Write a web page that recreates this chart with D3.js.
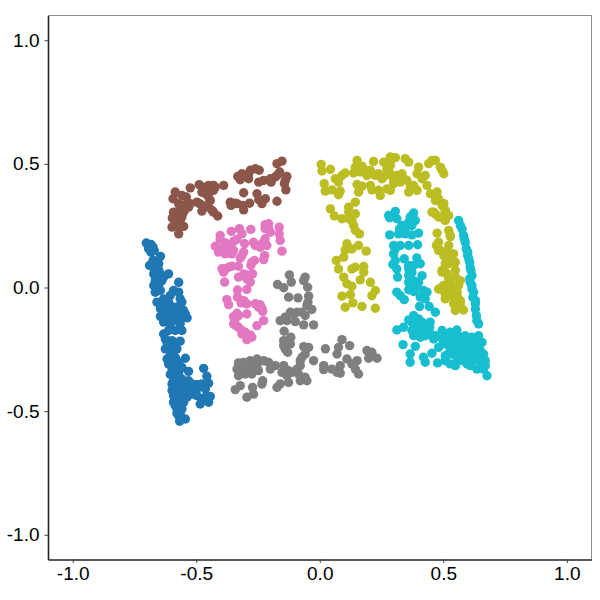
<!DOCTYPE html>
<html lang="en">
<head>
<meta charset="utf-8" />
<title>Scatter clusters</title>
<script src="https://d3js.org/d3.v7.min.js"></script>
<style>
  html, body { margin: 0; padding: 0; background: #fff; }
  svg { display: block; }
</style>
</head>
<body>
<script>
// points of each cluster, [x, y]
var cluster1 = [[-.702,.180],[-.683,.174],[-.693,.157],[-.675,.163],[-.683,.143],[-.670,.150],[-.645,.126],[-.675,.109],[-.689,.089],[-.652,.071],[-.612,.055],[-.672,.055],[-.645,.055],[-.666,.028],[-.639,.028],[-.672,.008],[-.652,.008],[-.571,.021],[-.666,-.019],[-.645,-.012],[-.592,-.012],[-.571,-.019],[-.659,-.059],[-.632,-.046],[-.612,-.059],[-.565,-.046],[-.558,-.059],[-.645,-.086],[-.618,-.086],[-.592,-.093],[-.551,-.093],[-.645,-.117],[-.618,-.120],[-.592,-.117],[-.558,-.113],[-.537,-.123],[-.632,-.140],[-.605,-.147],[-.565,-.147],[-.585,-.174],[-.558,-.174],[-.632,-.188],[-.598,-.215],[-.565,-.217],[-.618,-.221],[-.592,-.235],[-.625,-.248],[-.578,-.248],[-.618,-.289],[-.585,-.282],[-.544,-.286],[-.612,-.309],[-.585,-.309],[-.598,-.329],[-.558,-.323],[-.605,-.352],[-.571,-.343],[-.531,-.339],[-.470,-.327],[-.457,-.359],[-.598,-.390],[-.565,-.383],[-.531,-.377],[-.497,-.393],[-.450,-.387],[-.598,-.417],[-.571,-.410],[-.531,-.410],[-.504,-.417],[-.463,-.410],[-.443,-.441],[-.592,-.437],[-.565,-.437],[-.537,-.444],[-.497,-.437],[-.592,-.464],[-.551,-.464],[-.484,-.471],[-.450,-.464],[-.578,-.491],[-.558,-.491],[-.571,-.518],[-.544,-.532],[-.567,-.541],[-.578,-.509],
  [-.666,.096],[-.659,.042],[-.632,.042],[-.659,-.005],[-.639,-.073],[-.625,-.066],[-.605,-.073],[-.632,-.104],[-.605,-.107],[-.578,-.107],[-.571,-.127],[-.618,-.134],[-.592,-.134],[-.612,-.174],[-.625,-.208],[-.612,-.235],[-.598,-.255],[-.605,-.275],[-.598,-.296],[-.571,-.302],[-.565,-.323],[-.585,-.336],[-.592,-.377],[-.578,-.397],[-.585,-.424],[-.565,-.424],[-.578,-.451],[-.565,-.464],[-.585,-.478],[-.565,-.512],[-.565,-.532],[-.490,-.404],[-.477,-.390],[-.517,-.390],[-.517,-.431],[-.477,-.451],[-.463,-.444],[-.551,-.403],[-.551,-.431],[-.558,-.370],[-.571,-.363],[-.672,.082],[-.652,.096],[-.666,.069],[-.605,-.032],[-.578,-.079],[-.544,-.107]];
var cluster2 = [[-.585,.386],[-.594,.359],[-.558,.372],[-.540,.366],[-.524,.403],[-.488,.416],[-.571,.339],[-.551,.332],[-.524,.339],[-.497,.345],[-.486,.339],[-.477,.309],[-.450,.413],[-.430,.413],[-.389,.413],[-.477,.386],[-.457,.386],[-.430,.393],[-.450,.366],[-.443,.352],[-.450,.325],[-.430,.305],[-.413,.289],[-.592,.305],[-.565,.312],[-.544,.318],[-.531,.325],[-.578,.291],[-.597,.281],[-.558,.285],[-.585,.264],[-.598,.244],[-.571,.244],[-.551,.247],[-.571,.217],[-.332,.449],[-.315,.460],[-.322,.436],[-.281,.474],[-.288,.440],[-.261,.480],[-.245,.474],[-.247,.426],[-.227,.433],[-.200,.440],[-.197,.426],[-.173,.453],[-.162,.467],[-.173,.501],[-.153,.511],[-.133,.449],[-.143,.420],[-.137,.395],[-.308,.383],[-.254,.379],[-.247,.355],[-.220,.359],[-.234,.339],[-.173,.349],[-.362,.345],[-.359,.332],[-.335,.339],[-.311,.332],[-.308,.314],[-.284,.341],
  [-.463,.406],[-.443,.399],[-.423,.406],[-.463,.379],[-.565,.325],[-.551,.305],[-.578,.271],[-.565,.264],[-.457,.332],[-.436,.312],[-.288,.460],[-.322,.447],[-.180,.447],[-.166,.460],[-.139,.433],[-.342,.341]];
var cluster3 = [[-.207,.258],[-.221,.254],[-.164,.244],[-.279,.235],[-.325,.238],[-.358,.227],[-.315,.217],[-.403,.210],[-.164,.217],[-.160,.190],[-.200,.224],[-.221,.197],[-.403,.194],[-.423,.167],[-.383,.181],[-.349,.186],[-.335,.194],[-.304,.177],[-.268,.183],[-.227,.177],[-.241,.163],[-.214,.170],[-.153,.147],[-.410,.143],[-.389,.156],[-.369,.143],[-.349,.150],[-.308,.143],[-.322,.119],[-.275,.102],[-.264,.109],[-.223,.129],[-.227,.113],[-.396,.076],[-.369,.082],[-.356,.086],[-.329,.086],[-.389,.062],[-.279,.089],[-.308,.055],[-.329,.042],[-.295,.051],[-.272,.055],[-.281,.022],[-.385,.022],[-.333,-.010],[-.295,-.008],[-.376,-.049],[-.369,-.069],[-.333,-.039],[-.319,-.062],[-.295,-.066],[-.261,-.066],[-.241,-.070],[-.231,-.097],[-.295,-.107],[-.335,-.104],[-.349,-.118],[-.329,-.114],[-.349,-.147],[-.329,-.161],[-.227,-.134],[-.254,-.154],[-.302,-.181],[-.275,-.201],[-.295,-.211],[-.281,-.192],[-.339,-.154],[-.315,-.174],
  [-.221,.238],[-.207,.238],[-.396,.156],[-.376,.156],[-.362,.163],[-.383,.136],[-.356,.136],[-.315,.129],[-.383,.076],[-.295,.035],[-.308,-.053],[-.342,-.127],[-.315,-.188],[-.288,-.195],[-.248,-.080],[-.234,-.084],[-.234,.177],[-.261,.170]];
var cluster4 = [[-.123,.051],[-.115,.022],[-.059,.042],[-.065,.028],[-.171,.012],[-.146,-.001],[-.049,.001],[-.126,-.039],[-.088,-.042],[-.045,-.035],[-.048,-.060],[-.052,-.073],[-.032,-.089],[-.092,-.100],[-.119,-.100],[-.059,-.113],[-.140,-.120],[-.160,-.134],[-.133,-.134],[-.099,-.138],[-.065,-.151],[-.025,-.151],[-.144,-.177],[-.117,-.201],[-.146,-.215],[-.119,-.228],[-.140,-.248],[-.130,-.262],[-.065,-.239],[-.045,-.242],[.023,-.248],[.090,-.211],[.121,-.235],[.076,-.242],[.070,-.269],[-.059,-.269],[-.079,-.296],[-.025,-.296],[.191,-.255],[.211,-.262],[.198,-.286],[.232,-.286],[.110,-.289],[.151,-.296],[.130,-.309],[.144,-.330],[.157,-.350],[.016,-.316],[.016,-.332],[.049,-.330],[.083,-.316],[.070,-.343],[.083,-.346],[-.329,-.305],[-.308,-.303],[-.281,-.296],[-.254,-.289],[-.227,-.296],[-.335,-.330],[-.308,-.323],[-.281,-.323],[-.254,-.316],[-.207,-.303],[-.200,-.330],[-.329,-.357],[-.302,-.350],[-.275,-.350],[-.248,-.336],[-.180,-.316],[-.146,-.316],[-.153,-.343],[-.126,-.336],[-.092,-.330],[-.086,-.350],[-.133,-.357],[-.126,-.384],[-.160,-.390],[-.173,-.404],[-.231,-.377],[-.234,-.390],[-.322,-.397],[-.342,-.413],[-.272,-.404],[-.268,-.431],[-.295,-.444],[-.059,-.363],[-.079,-.377],[-.052,-.377],
  [-.315,-.316],[-.288,-.309],[-.261,-.303],[-.302,-.336],[-.268,-.330],[-.140,-.330],[-.113,-.343],[-.079,-.316],[-.072,-.282],[-.146,-.235],[-.126,-.215],[-.106,-.107],[-.072,-.100]];
var cluster5 = [[.006,.498],[.009,.471],[.043,.478],[.103,.463],[.090,.453],[.063,.440],[.076,.426],[.018,.420],[.022,.390],[.049,.395],[.083,.390],[.076,.375],[.151,.514],[.144,.487],[.137,.463],[.171,.491],[.184,.474],[.218,.510],[.211,.460],[.205,.474],[.259,.507],[.286,.528],[.306,.525],[.286,.514],[.346,.521],[.360,.507],[.272,.480],[.265,.453],[.252,.440],[.225,.453],[.151,.417],[.171,.410],[.157,.386],[.205,.413],[.211,.395],[.238,.393],[.245,.372],[.286,.393],[.272,.399],[.299,.420],[.333,.460],[.326,.426],[.353,.433],[.367,.406],[.360,.386],[.394,.393],[.400,.487],[.394,.460],[.427,.453],[.414,.440],[.441,.501],[.468,.514],[.495,.474],[.502,.460],[.434,.413],[.448,.379],[.475,.386],[.481,.359],[.502,.339],[.508,.312],[.461,.305],[.481,.285],[.508,.271],[.144,.345],[.117,.325],[.144,.298],[.043,.318],[.059,.289],[.090,.278],[.117,.278],[.137,.251],[.144,.231],[.161,.217],[.475,.220],[.522,.231],[.529,.206],[.110,.177],[.103,.152],[.157,.170],[.188,.147],[.130,.156],[.097,.123],[.067,.109],[.076,.075],[.097,.042],[.130,.075],[.144,.082],[.178,.085],[.110,.015],[.130,.005],[.164,.031],[.178,.062],[.205,.021],[.225,-.012],[.211,-.033],[.090,-.035],[.124,-.029],[.103,-.080],[.134,-.062],[.171,-.077],[.225,-.084],[.472,.170],[.481,.150],[.522,.170],[.502,.129],[.542,.136],[.522,.096],[.508,.062],[.549,.069],[.522,.035],[.495,.001],[.529,.015],[.542,.001],[.515,-.026],[.556,-.019],[.556,-.060],[.549,-.093],[.501,-.012],[.535,-.012],[.562,.008],[.508,-.046],[.569,-.053],[.582,-.091],[.562,-.080],[.528,-.033],[.495,.062],[.528,.102],
  [.454,.305],[.468,.298],[.488,.285],[.522,.291],[.508,.312],[.501,.339],[.528,.210],[.481,.183],[.488,.150],[.508,.143],[.522,.116],[.535,.136],[.549,.102],[.508,.096],[.495,.069],[.515,.055],[.549,.042],[.569,.028],[.501,.008],[.515,-.006],[.508,-.026],[.528,-.026],[.549,-.006],[.555,-.026],[.562,-.046],[.569,-.066],[.542,-.066],[.481,-.006],[.164,.467],[.191,.453],[.238,.460],[.286,.460],[.299,.440],[.286,.494],[.340,.440],[.380,.413],[.468,.352],[.495,.332],[.515,.291],[.454,.514],[.488,.487],[.313,.453],[.117,.305],[.130,.271]];
var cluster6 = [[.562,.271],[.576,.237],[.582,.210],[.589,.183],[.593,.156],[.599,.129],[.607,.102],[.612,.069],[.607,.035],[.616,.008],[.623,-.019],[.630,-.053],[.630,-.087],[.634,-.114],[.643,-.147],[.279,.291],[.306,.308],[.283,.282],[.312,.278],[.333,.251],[.323,.237],[.380,.301],[.366,.285],[.373,.251],[.360,.264],[.346,.217],[.319,.217],[.283,.213],[.373,.213],[.400,.220],[.299,.170],[.326,.170],[.360,.170],[.396,.173],[.299,.136],[.342,.116],[.393,.120],[.296,.093],[.312,.075],[.360,.089],[.380,.089],[.373,.062],[.407,.096],[.360,.048],[.315,.042],[.380,.028],[.414,.048],[.360,-.009],[.380,-.016],[.393,-.003],[.312,-.019],[.326,-.033],[.342,-.049],[.420,-.012],[.434,-.019],[.407,-.039],[.427,-.046],[.404,-.077],[.443,-.077],[.468,-.100],[.380,-.114],[.360,-.131],[.400,-.127],[.414,-.140],[.312,-.172],[.339,-.161],[.447,-.140],[.445,-.161],[.373,-.174],[.393,-.168],[.380,-.195],[.420,-.174],[.407,-.201],[.387,-.238],[.337,-.231],[.447,-.188],[.468,-.195],[.495,-.174],[.528,-.181],[.555,-.172],[.508,-.208],[.481,-.242],[.501,-.228],[.522,-.222],[.549,-.215],[.589,-.195],[.616,-.201],[.643,-.195],[.657,-.222],[.596,-.222],[.576,-.228],[.630,-.228],[.528,-.249],[.562,-.255],[.603,-.249],[.636,-.255],[.508,-.276],[.535,-.269],[.576,-.276],[.609,-.276],[.650,-.276],[.663,-.269],[.454,-.266],[.366,-.269],[.366,-.302],[.420,-.282],[.427,-.302],[.477,-.305],[.528,-.309],[.549,-.316],[.596,-.309],[.609,-.316],[.636,-.330],[.670,-.296],[.677,-.357],[.663,-.330],[.670,-.316],[.508,-.296],
  [.522,-.195],[.542,-.195],[.569,-.201],[.596,-.201],[.609,-.215],[.636,-.208],[.535,-.228],[.555,-.235],[.589,-.235],[.609,-.235],[.616,-.255],[.549,-.262],[.582,-.255],[.522,-.269],[.555,-.282],[.596,-.269],[.630,-.276],[.643,-.242],[.650,-.255],[.623,-.296],[.582,-.296],[.562,-.296],[.609,-.296],[.650,-.296],[.657,-.309],[.495,-.208],[.461,-.208],[.427,-.195],[.400,-.188],[.387,-.147],[.427,-.168],[.373,-.141],[.360,.075],[.366,.028],[.380,.015],[.400,.021],[.360,.021],[.306,.156],[.306,.109],[.387,.271],[.346,.237],[.609,.082],[.616,.048],[.609,.021],[.616,-.006],[.620,-.040],[.630,-.066],[.569,.251],[.585,.197],[.599,.143],[.603,.116],[.636,-.134]];

var clusters = [cluster1, cluster2, cluster3, cluster4, cluster5, cluster6];
var colours = ["#1f77b4", "#8c564b", "#e377c2", "#7f7f7f", "#bcbd22", "#17becf"];
var tickValues = [-1, -0.5, 0, 0.5, 1];

var w = 600, h = 600;
var left = 48, right = 591.5, top_ = 15.5, bottom = 559.5;

var svg = d3.select("body").append("svg").attr("width", w).attr("height", h);

var x = d3.scaleLinear().domain([-1.1, 1.1]).range([left, right]);
var y = d3.scaleLinear().domain([-1.1, 1.1]).range([bottom, top_]);

// thin panel border on top and right
svg.append("path")
  .attr("d", "M" + left + "," + top_ + "H" + right + "V" + bottom)
  .attr("fill", "none").attr("stroke", "#8c8c8c").attr("stroke-width", 1);

clusters.forEach(function(pts, i) {
  svg.append("g").selectAll("circle")
    .data(pts)
    .enter()
    .append("circle")
    .attr("cx", function(d) { return x(d[0]); })
    .attr("cy", function(d) { return y(d[1]); })
    .attr("r", 4.7)
    .attr("fill", colours[i]);
});

// plain hyphen for the minus sign, like the original labels
var fmt = d3.formatLocale({ decimal: ".", thousands: ",", grouping: [3], currency: ["", ""], minus: "-" }).format(".1f");
var xAxis = d3.axisBottom(x).tickValues(tickValues).tickFormat(fmt).tickSize(3.5).tickPadding(3.5).tickSizeOuter(0);
var yAxis = d3.axisLeft(y).tickValues(tickValues).tickFormat(fmt).tickSize(3.5).tickPadding(5).tickSizeOuter(0);

var gx = svg.append("g").attr("transform", "translate(0," + bottom + ")").call(xAxis);
var gy = svg.append("g").attr("transform", "translate(" + left + ",0)").call(yAxis);

[gx, gy].forEach(function(g) {
  g.selectAll("text").attr("font-family", "Liberation Sans, Arial, sans-serif").attr("font-size", "19px").attr("fill", "#000");
  g.selectAll(".tick line").attr("stroke", "#444");
  g.select(".domain").attr("stroke", "#222").attr("stroke-width", 1.6);
});
</script>
</body>
</html>
